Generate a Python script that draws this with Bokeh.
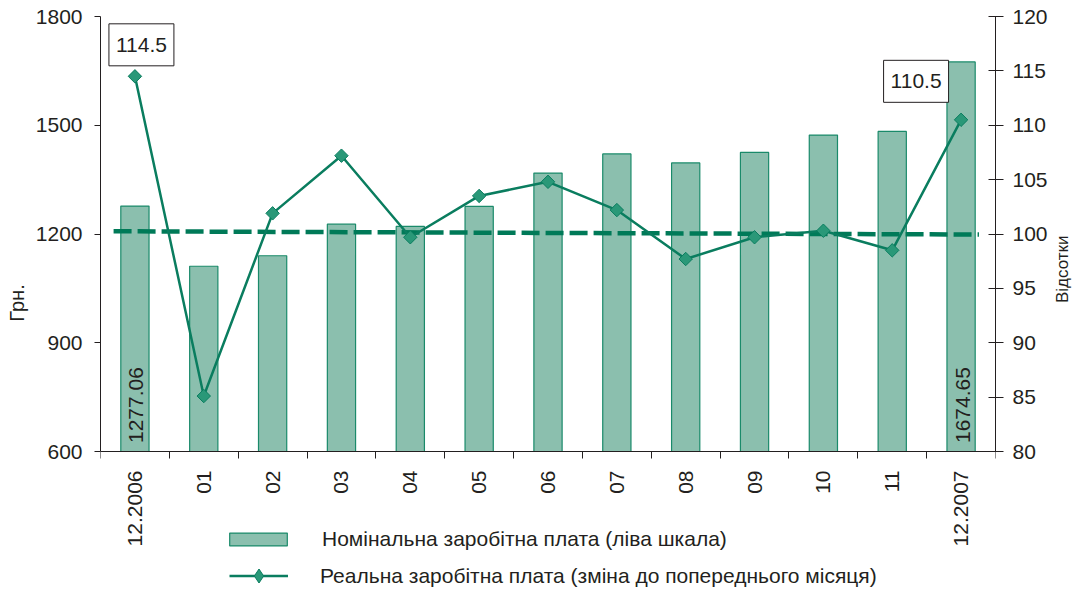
import math
from bokeh.plotting import figure
from bokeh.models import (Range1d, LinearAxis, FixedTicker, Label, Legend, LegendItem,
                          ColumnDataSource)
from bokeh.embed import file_html
from bokeh.resources import INLINE

categories = ["12.2006", "01", "02", "03", "04", "05", "06", "07", "08", "09", "10", "11", "12.2007"]
nominal = [1277.06, 1111, 1140, 1227, 1221, 1276, 1368, 1421, 1396, 1425, 1473, 1483, 1674.65]
real = [114.5, 85.1, 101.9, 107.2, 99.7, 103.5, 104.8, 102.2, 97.7, 99.7, 100.3, 98.5, 110.5]
ref_x = [-0.31, 12.26]
ref_y = [100.25, 99.95]
left_ticks = [600, 900, 1200, 1500, 1800]
right_ticks = [80, 85, 90, 95, 100, 105, 110, 115, 120]
legend_labels = ["Номінальна заробітна плата (ліва шкала)",
                 "Реальна заробітна плата (зміна до попереднього місяця)"]

FONT = "Liberation Sans"
TXT = "#231f20"
BAR_FILL = "#8bbfae"
BAR_LINE = "#1a8a6a"
LINE_C = "#0a7d5f"
MARK_C = "#2a9878"
DASH_C = "#007a58"

W, H = 1084, 589
FRAME_TOP, AXIS_Y = 16, 451          # pixel rows of the 1800/120 and 600/80 levels
below_px = H - AXIS_Y                 # room under the axis line (legend, tick labels)
left_start = 600 - below_px * (1800 - 600) / (AXIS_Y - FRAME_TOP)
right_start = 80 - below_px * (120 - 80) / (AXIS_Y - FRAME_TOP)

idx = list(range(len(categories)))
src = ColumnDataSource(dict(x=idx, nominal=nominal, real=real))

p = figure(width=W, height=H, output_backend="svg", toolbar_location=None,
           x_range=Range1d(-0.5, 12.5), y_range=Range1d(left_start, 1800),
           min_border_left=100, min_border_right=88, min_border_top=FRAME_TOP, min_border_bottom=0,
           x_axis_location=None, y_axis_location=None)
p.outline_line_color = None
p.xgrid.visible = False
p.ygrid.visible = False
p.extra_y_ranges = {"pct": Range1d(right_start, 120)}

# axes
xa = LinearAxis(ticker=FixedTicker(ticks=idx, minor_ticks=[i - 0.5 for i in range(14)]),
                major_label_overrides={i: c for i, c in enumerate(categories)},
                fixed_location=600)
xa.major_tick_in = 0
xa.major_tick_out = 0
xa.minor_tick_in = 0
xa.minor_tick_out = 7
xa.major_label_orientation = math.pi / 2
xa.major_label_standoff = 12
p.add_layout(xa, "below")

ya = LinearAxis(ticker=FixedTicker(ticks=left_ticks), axis_label="Грн.", bounds=(600, 1800))
ya.major_tick_in = 0
ya.major_tick_out = 6
ya.minor_tick_out = 0
ya.minor_tick_in = 0
ya.major_label_standoff = 12
ya.axis_label_standoff = 5
p.add_layout(ya, "left")

ra = LinearAxis(y_range_name="pct", ticker=FixedTicker(ticks=right_ticks), axis_label="Відсотки",
                bounds=(80, 120))
ra.major_tick_in = 7
ra.major_tick_out = 8
ra.minor_tick_out = 0
ra.minor_tick_in = 0
ra.major_label_standoff = 9
ra.axis_label_standoff = 12
try:
    ra.axis_label_orientation = math.pi / 2
except Exception:
    pass
p.add_layout(ra, "right")

for ax in (xa, ya, ra):
    ax.axis_line_color = TXT
    ax.major_tick_line_color = TXT
    ax.minor_tick_line_color = TXT
    ax.major_label_text_font = FONT
    ax.major_label_text_font_size = "21px"
    ax.major_label_text_color = TXT
    ax.axis_label_text_font = FONT
    ax.axis_label_text_font_style = "normal"
    ax.axis_label_text_color = TXT
ya.axis_label_text_font_size = "20px"
ra.axis_label_text_font_size = "17px"

bars = p.vbar(x="x", top="nominal", bottom=600, width=0.41, source=src,
              fill_color=BAR_FILL, line_color=BAR_LINE, line_width=1.2)

p.line(x=ref_x, y=ref_y, y_range_name="pct", line_color=DASH_C, line_width=4.5,
       line_dash="18 6")

ln = p.line(x="x", y="real", source=src, y_range_name="pct", line_color=LINE_C, line_width=2.5)
mk = p.scatter(x="x", y="real", source=src, y_range_name="pct", marker="square", angle=math.pi / 4,
               size=9.5, fill_color=MARK_C, line_color=LINE_C, line_width=1)
# legend swatch proxy: legend markers ignore the angle, so a diamond of zero plotted size
mk_legend = p.scatter(x="x", y="real", source=src, y_range_name="pct", marker="diamond", size=0,
                      fill_color=MARK_C, line_color=LINE_C, line_width=1)

# value labels in boxes
box_style = dict(text_align="center", text_baseline="middle", text_font=FONT, text_font_size="21px",
                 text_color=TXT, border_line_color=TXT, border_line_width=1,
                 background_fill_color="white", padding=(7, 14))
p.add_layout(Label(x=0, y=real[0], y_range_name="pct", text=f"{real[0]}", x_offset=6.5, y_offset=31.5,
                   **box_style))
p.add_layout(Label(x=12, y=real[-1], y_range_name="pct", text=f"{real[-1]}", x_offset=-45, y_offset=38.5,
                   **box_style))
# bar value labels (rotated)
for i in (0, 12):
    p.add_layout(Label(x=i, y=600, text=f"{nominal[i]:.2f}", angle=math.pi / 2, x_offset=1.5, y_offset=8.5,
                       text_align="left", text_baseline="middle", text_font=FONT, text_font_size="21px",
                       text_color=TXT))

leg_common = dict(orientation="vertical", padding=0, margin=0, border_line_color=None,
                  background_fill_alpha=0, label_text_font=FONT, label_text_font_size="21px",
                  label_text_color=TXT, label_height=25)
legend1 = Legend(items=[LegendItem(label=legend_labels[0], renderers=[bars])],
                 location=(122, 38), glyph_width=72, glyph_height=16, label_standoff=28,
                 **leg_common)
legend2 = Legend(items=[LegendItem(label=legend_labels[1], renderers=[ln, mk_legend])],
                 location=(129, -4), glyph_width=59, glyph_height=35, label_standoff=32,
                 **leg_common)
p.add_layout(legend1, "center")
p.add_layout(legend2, "center")

open("out.html", "w").write(file_html(p, INLINE))
